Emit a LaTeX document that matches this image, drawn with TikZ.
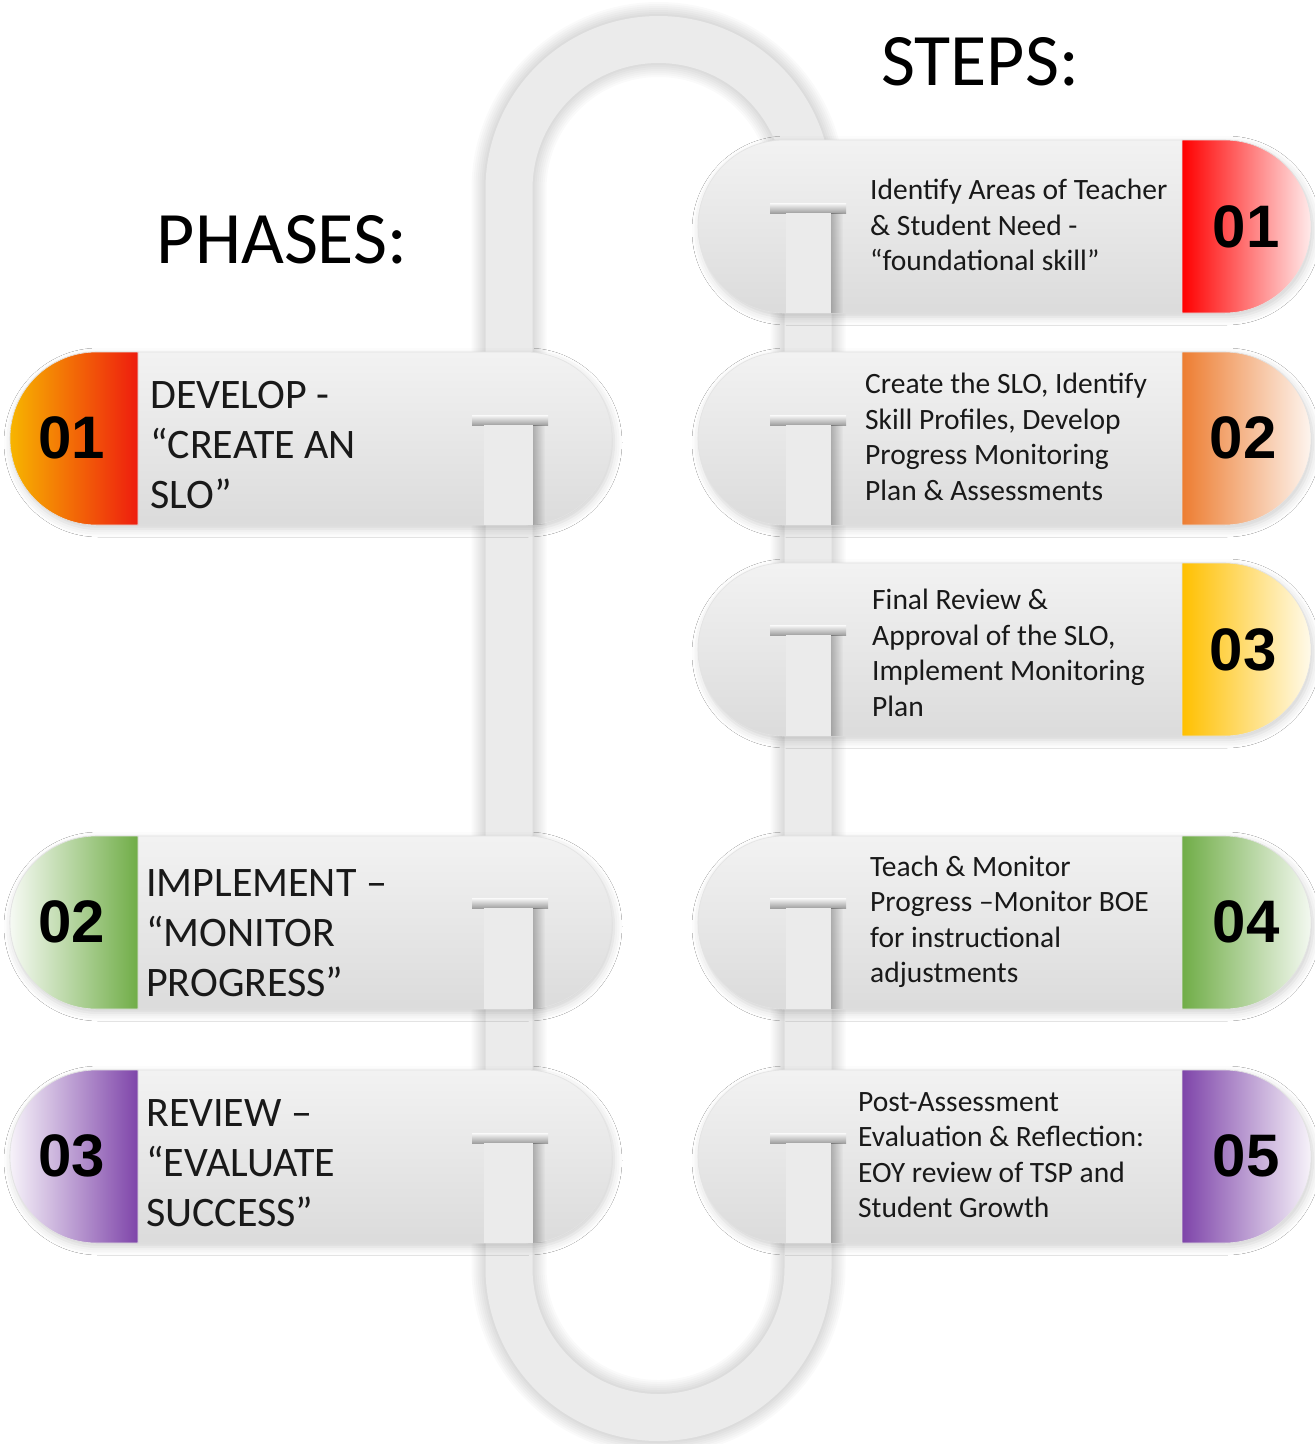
\documentclass[tikz,border=0pt]{standalone}
\usepackage{fontspec}
\setmainfont{Carlito}
\newfontfamily\numfont{Liberation Sans}
\usetikzlibrary{shapes.misc,shadows.blur,fadings}

\definecolor{tube}{HTML}{EBEBEB}
\definecolor{phorange}{HTML}{F7B500}
\definecolor{phred}{HTML}{EE1C0E}
\definecolor{stred}{HTML}{FF0000}
\definecolor{storange}{HTML}{ED7D31}
\definecolor{styellow}{HTML}{FFC000}
\definecolor{stgreen}{HTML}{70AD47}
\definecolor{stpurple}{HTML}{7030A0}

% centre line of the paper clip
\newcommand{\looppath}{(509,189) arc[start angle=180,end angle=360,radius=149.5] -- (808,1268) arc[start angle=0,end angle=180,radius=149.5] -- cycle}

\tikzset{
  pill/.style={rounded rectangle, minimum height=173pt, inner sep=0pt,
    top color=gray!10, middle color=white, bottom color=gray!28,
    draw=gray!22, line width=0.6pt,
    blur shadow={shadow xshift=2pt, shadow yshift=-4pt, shadow blur radius=8pt, shadow opacity=18}},
  phasepill/.style={pill, minimum width=602pt},
  steppill/.style={pill, minimum width=613pt},
  colorcap/.style={draw=gray!22, line width=0.6pt},
  phasetext/.style={anchor=west, align=left, inner sep=0pt, text=black!90, font=\fontsize{42}{50}\selectfont},
  steptext/.style={anchor=west, align=left, inner sep=0pt, text=black!90, font=\fontsize{29.5}{35.5}\selectfont},
  numtext/.style={inner sep=0pt, font=\numfont\bfseries\fontsize{60}{60}\selectfont},
  headtext/.style={inner sep=0pt, font=\fontsize{74}{80}\selectfont},
  bar/.style={fill=tube},
  tshade/.style={top color=gray!4, bottom color=gray!75},
  sideshade/.style={fill=black, fill opacity=0.25, path fading=east},
  loopshadow/.style={draw=black, opacity=0.02, line join=round}
}

\begin{document}
\begin{tikzpicture}[x=1pt,y=-1pt]
  \useasboundingbox (0,0) rectangle (1315,1444);
  \fill[white] (0,0) rectangle (1315,1444);

  % the clip behind everything
  \foreach \w in {51,55,...,75}
    \draw[loopshadow, line width=\w pt] \looppath;
  \draw[tube, line width=47pt, line join=round] \looppath;

  \node[headtext] (steps) at (980,62) {STEPS:};
  \node[headtext] (phases) at (282,240) {PHASES:};

  % phases
  \node[phasepill] (ph1) at (311,438.5) {};
  \node[phasepill] (ph2) at (311,922.5) {};
  \node[phasepill] (ph3) at (311,1156.5) {};
  \shade[colorcap, left color=phorange, right color=phred] (138,352) -- (96.5,352) arc[start angle=270,end angle=90,radius=86.5] -- (138,525) -- cycle;
  \shade[colorcap, left color=stgreen!6, right color=stgreen] (138,836) -- (96.5,836) arc[start angle=270,end angle=90,radius=86.5] -- (138,1009) -- cycle;
  \shade[colorcap, left color=stpurple!6, right color=stpurple!90] (138,1070) -- (96.5,1070) arc[start angle=270,end angle=90,radius=86.5] -- (138,1243) -- cycle;

  % steps
  \node[steppill] (st1) at (1004.5,226.5) {};
  \node[steppill] (st2) at (1004.5,438.5) {};
  \node[steppill] (st3) at (1004.5,649.5) {};
  \node[steppill] (st4) at (1004.5,922.5) {};
  \node[steppill] (st5) at (1004.5,1156.5) {};
  \shade[colorcap, left color=stred, right color=stred!8] (1182,140) -- (1224.5,140) arc[start angle=-90,end angle=90,radius=86.5] -- (1182,313) -- cycle;
  \shade[colorcap, left color=storange, right color=storange!8] (1182,352) -- (1224.5,352) arc[start angle=-90,end angle=90,radius=86.5] -- (1182,525) -- cycle;
  \shade[colorcap, left color=styellow, right color=styellow!8] (1182,563) -- (1224.5,563) arc[start angle=-90,end angle=90,radius=86.5] -- (1182,736) -- cycle;
  \shade[colorcap, left color=stgreen, right color=stgreen!8] (1182,836) -- (1224.5,836) arc[start angle=-90,end angle=90,radius=86.5] -- (1182,1009) -- cycle;
  \shade[colorcap, left color=stpurple!90, right color=stpurple!6] (1182,1070) -- (1224.5,1070) arc[start angle=-90,end angle=90,radius=86.5] -- (1182,1243) -- cycle;

  % clip coming out of the pills
  \shade[tshade] (472,415) rectangle (548,425);
  \fill[bar] (484,425) rectangle (533,525);
  \fill[sideshade] (533,425) rectangle (545,525);
  \shade[tshade] (472,898) rectangle (548,908);
  \fill[bar] (484,908) rectangle (533,1009);
  \fill[sideshade] (533,908) rectangle (545,1009);
  \shade[tshade] (472,1133) rectangle (548,1143);
  \fill[bar] (484,1143) rectangle (533,1243);
  \fill[sideshade] (533,1143) rectangle (545,1243);

  \shade[tshade] (770,203) rectangle (846,213);
  \fill[bar] (786,213) rectangle (831,313);
  \fill[sideshade] (831,213) rectangle (843,313);
  \shade[tshade] (770,415) rectangle (846,425);
  \fill[bar] (786,425) rectangle (831,525);
  \fill[sideshade] (831,425) rectangle (843,525);
  \shade[tshade] (770,625) rectangle (846,635);
  \fill[bar] (786,635) rectangle (831,736);
  \fill[sideshade] (831,635) rectangle (843,736);
  \shade[tshade] (770,898) rectangle (846,908);
  \fill[bar] (786,908) rectangle (831,1009);
  \fill[sideshade] (831,908) rectangle (843,1009);
  \shade[tshade] (770,1133) rectangle (846,1143);
  \fill[bar] (786,1143) rectangle (831,1243);
  \fill[sideshade] (831,1143) rectangle (843,1243);

  \node[numtext] (ph1num) at (72,438) {01};
  \node[numtext] (ph2num) at (72,922) {02};
  \node[numtext] (ph3num) at (72,1156) {03};
  \node[phasetext] (ph1text) at (150,445) {DEVELOP -\\“CREATE AN\\SLO”};
  \node[phasetext] (ph2text) at (146,933) {IMPLEMENT –\\“MONITOR\\PROGRESS”};
  \node[phasetext] (ph3text) at (146,1163) {REVIEW –\\“EVALUATE\\SUCCESS”};

  \node[numtext] (st1num) at (1246,227) {01};
  \node[numtext] (st2num) at (1243,438) {02};
  \node[numtext] (st3num) at (1243,650) {03};
  \node[numtext] (st4num) at (1246,922) {04};
  \node[numtext] (st5num) at (1246,1156) {05};
  \node[steptext] (st1text) at (870,225) {Identify Areas of Teacher\\\& Student Need -\\“foundational skill”};
  \node[steptext] (st2text) at (865,437) {Create the SLO, Identify\\Skill Profiles, Develop\\Progress Monitoring\\Plan \& Assessments};
  \node[steptext] (st3text) at (872,653) {Final Review \&\\Approval of the SLO,\\Implement Monitoring\\Plan};
  \node[steptext] (st4text) at (870,922) {Teach \& Monitor\\Progress –Monitor BOE\\for instructional\\adjustments};
  \node[steptext] (st5text) at (858,1155) {Post-Assessment\\Evaluation \& Reflection:\\EOY review of TSP and\\Student Growth};
%  \draw[red] (0,0) grid[step=100] (1315,1444);
\end{tikzpicture}
\end{document}
